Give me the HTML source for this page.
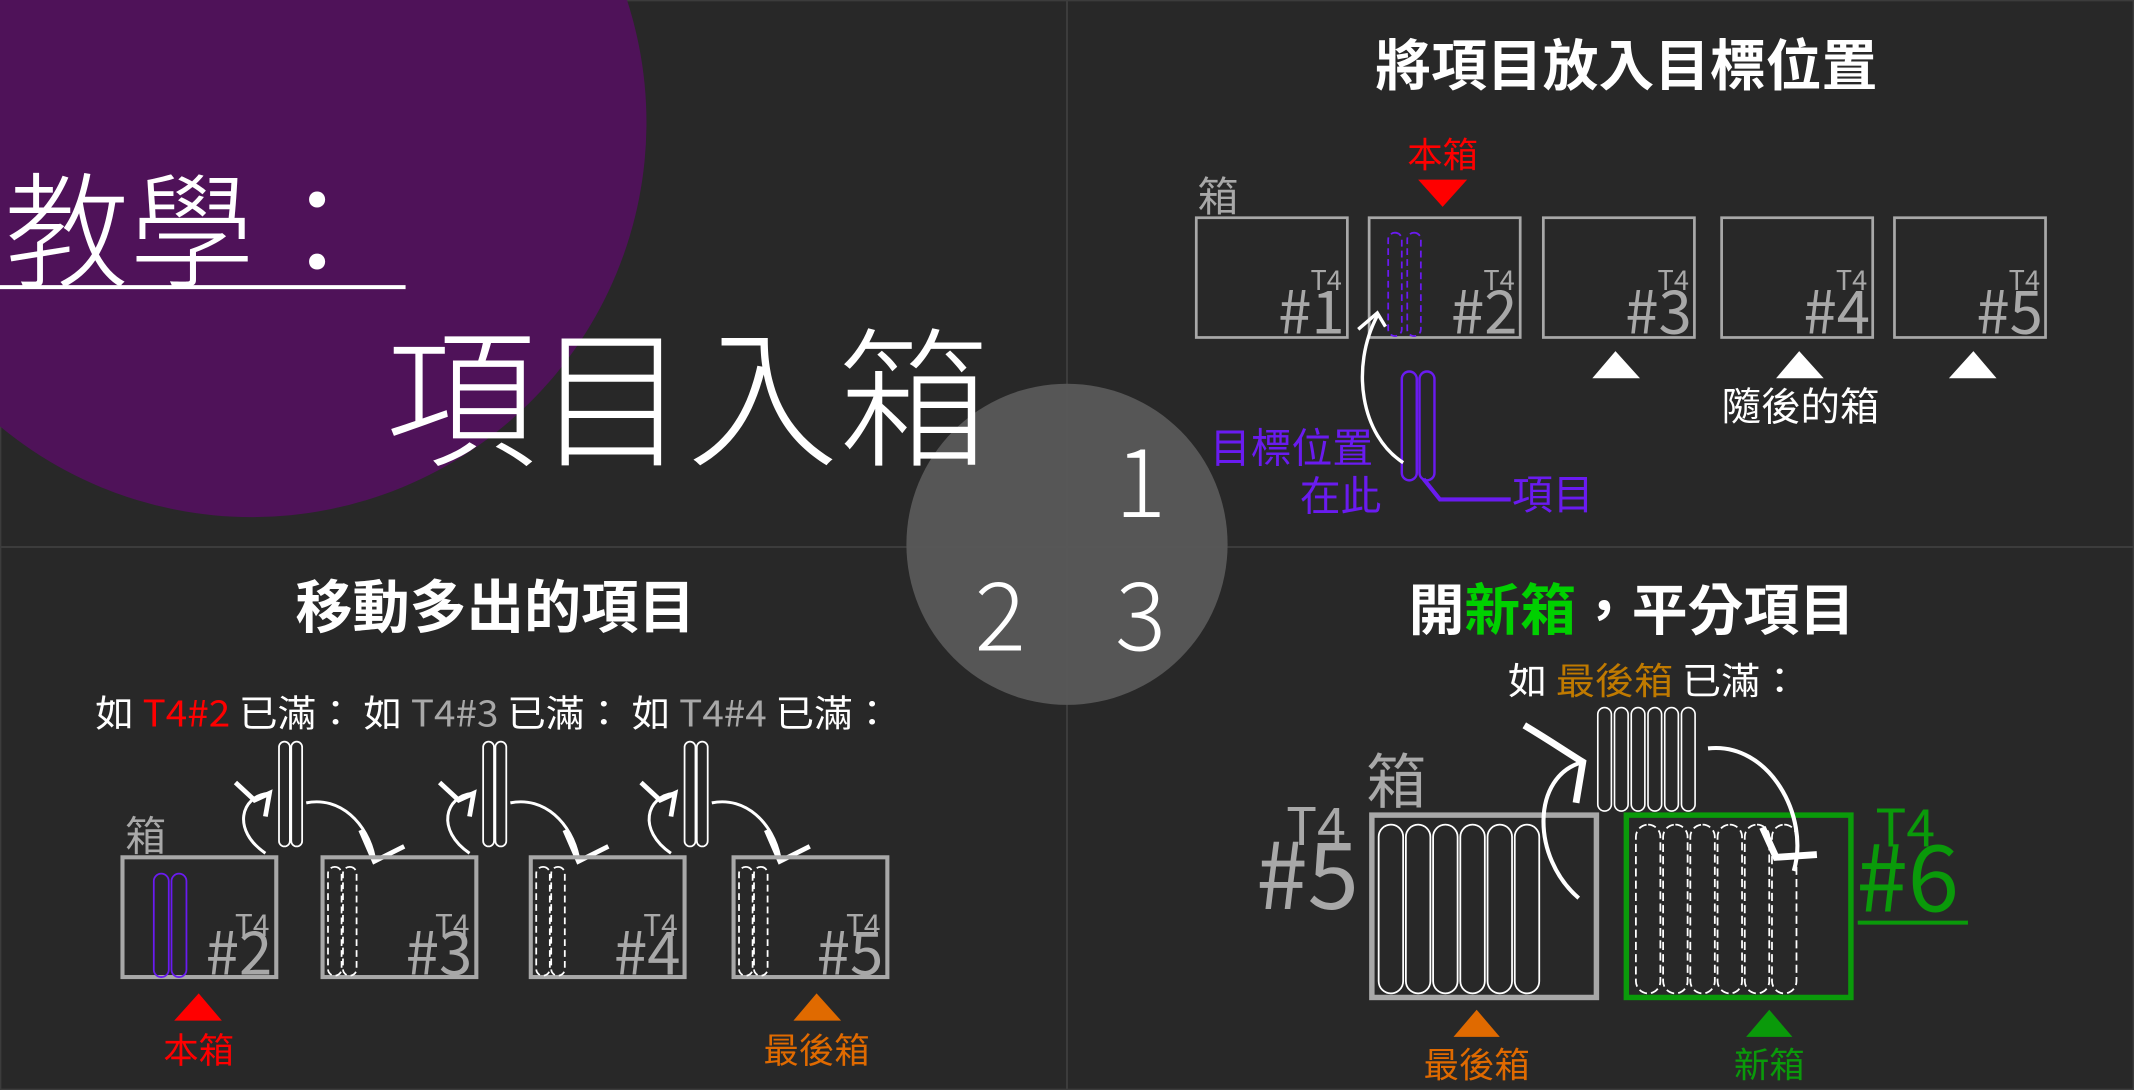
<!DOCTYPE html>
<html><head><meta charset="utf-8"><style>
html,body{margin:0;padding:0;background:#282828;overflow:hidden}
svg{display:block}
text{font-family:"Liberation Sans","Noto Sans CJK TC",sans-serif}
.cjk{font-family:"Noto Sans CJK TC","Liberation Sans",sans-serif}
</style></head><body>
<svg width="2134" height="1090" viewBox="0 0 1568 801" preserveAspectRatio="none" xmlns="http://www.w3.org/2000/svg">
<rect x="0" y="0" width="1568" height="801" fill="#282828"/>
<rect x="0.5" y="0.5" width="1567" height="800" fill="none" stroke="#3c3c3c" stroke-width="1"/>
<line x1="784" y1="0" x2="784" y2="801" stroke="#3c3c3c" stroke-width="1.5"/>
<line x1="0" y1="402" x2="1568" y2="402" stroke="#3c3c3c" stroke-width="1.5"/>
<circle cx="185" cy="90" r="290" fill="#4f1259"/>
<circle cx="784" cy="400" r="118" fill="#5a5a5a" fill-opacity="0.92"/>
<text x="838" y="380" font-size="70" font-weight="200" fill="#fff" text-anchor="middle" class="cjk">1</text>
<text x="735" y="478" font-size="70" font-weight="200" fill="#fff" text-anchor="middle" class="cjk">2</text>
<text x="838" y="478" font-size="70" font-weight="200" fill="#fff" text-anchor="middle" class="cjk">3</text>
<text x="3" y="204" font-size="92" font-weight="300" fill="#fff" class="cjk">教學：</text>
<line x1="0" y1="211" x2="298" y2="211" stroke="#fff" stroke-width="3"/>
<text x="283" y="334" font-size="111" font-weight="300" fill="#fff" class="cjk">項目入箱</text>

<!-- Panel 1 -->
<g>
<text x="1195" y="63" font-size="41" font-weight="bold" fill="#fff" text-anchor="middle" class="cjk">將項目放入目標位置</text>
<text x="880" y="155" font-size="30" fill="#a8a8a8" class="cjk">箱</text>
<text x="1060" y="123" font-size="26" fill="#ff0000" text-anchor="middle" class="cjk">本箱</text>
<polygon points="1042,132 1078,132 1060,152" fill="#ff0000"/>
<g id="p1boxes"></g>
<rect x="1020" y="171" width="10" height="76" rx="5" fill="none" stroke="#6a1bf0" stroke-width="1.3" stroke-dasharray="5,3"/>
<rect x="1034" y="171" width="10" height="76" rx="5" fill="none" stroke="#6a1bf0" stroke-width="1.3" stroke-dasharray="5,3"/>
<rect x="1030" y="273" width="11" height="80" rx="5.5" fill="none" stroke="#6a1bf0" stroke-width="1.8"/>
<rect x="1043" y="273" width="11" height="80" rx="5.5" fill="none" stroke="#6a1bf0" stroke-width="1.8"/>
<polyline points="1046,352 1058,367 1110,367" fill="none" stroke="#6a1bf0" stroke-width="3"/>
<text x="1111" y="374" font-size="30" fill="#6a1bf0" class="cjk">項目</text>
<text x="889" y="340" font-size="30" fill="#6a1bf0" class="cjk">目標位置</text>
<text x="955" y="375" font-size="30" fill="#6a1bf0" class="cjk">在此</text>
<path d="M1031,340 C1000,320 992,270 1012,232" fill="none" stroke="#fff" stroke-width="2.5"/>
<path d="M998,242 L1012,230 L1018,240" fill="none" stroke="#fff" stroke-width="2.5"/>
<polygon points="1170,278 1205,278 1187,258" fill="#fff"/>
<polygon points="1305,278 1340,278 1322,258" fill="#fff"/>
<polygon points="1432,278 1467,278 1450,258" fill="#fff"/>
<text x="1323" y="309" font-size="29" fill="#fff" text-anchor="middle" class="cjk">隨後的箱</text>
</g>

<!-- Panel 2 -->
<g>
<text x="364" y="461" font-size="42" font-weight="bold" fill="#fff" text-anchor="middle" class="cjk">移動多出的項目</text>
<text x="70" y="534" font-size="27" fill="#fff" class="cjk" textLength="585" lengthAdjust="spacingAndGlyphs">如 <tspan fill="#ff0000">T4#2</tspan> 已滿： 如 <tspan fill="#a8a8a8">T4#3</tspan> 已滿： 如 <tspan fill="#a8a8a8">T4#4</tspan> 已滿：</text>
<text x="92" y="625" font-size="30" fill="#a8a8a8" class="cjk">箱</text>
<g id="p2boxes"></g>
<polygon points="128,750 163,750 146,730" fill="#ff0000"/>
<text x="146" y="781" font-size="26" fill="#ff0000" text-anchor="middle" class="cjk">本箱</text>
<polygon points="583,750 618,750 600,730" fill="#e06a00"/>
<text x="600" y="781" font-size="26" fill="#e06a00" text-anchor="middle" class="cjk">最後箱</text>
</g>

<!-- Panel 3 -->
<g>
<text x="1199" y="463" font-size="41" font-weight="bold" fill="#fff" text-anchor="middle" class="cjk">開<tspan fill="#00d000">新箱</tspan>，平分項目</text>
<text x="1108" y="510" font-size="27" fill="#fff" class="cjk" textLength="214" lengthAdjust="spacingAndGlyphs">如 <tspan fill="#c07a00">最後箱</tspan> 已滿：</text>
<text x="1004" y="590" font-size="44" fill="#a8a8a8" class="cjk">箱</text>
<text x="945" y="621" font-size="38" fill="#a8a8a8" class="cjk">T4</text>
<text x="923" y="668" font-size="68" fill="#a8a8a8" class="cjk">#5</text>
<text x="1378" y="622" font-size="38" fill="#0a9a0a" class="cjk">T4</text>
<text x="1364" y="670" font-size="68" fill="#0a9a0a" class="cjk">#6</text>
<line x1="1365" y1="678" x2="1446" y2="678" stroke="#0a9a0a" stroke-width="3"/>
<rect x="1008" y="599" width="165" height="134" fill="none" stroke="#a8a8a8" stroke-width="4"/>
<rect x="1195" y="599" width="165" height="134" fill="none" stroke="#0a9a0a" stroke-width="4"/>
<g id="p3items"></g>
<polygon points="1068,762 1102,762 1085,742" fill="#e06a00"/>
<text x="1085" y="792" font-size="26" fill="#e06a00" text-anchor="middle" class="cjk">最後箱</text>
<polygon points="1283,762 1317,762 1300,742" fill="#0a9a0a"/>
<text x="1300" y="792" font-size="26" fill="#0a9a0a" text-anchor="middle" class="cjk">新箱</text>
<path d="M1160,660 C1125,630 1125,570 1163,560" fill="none" stroke="#fff" stroke-width="3"/>
<path d="M1120,533 C1140,545 1150,552 1163,560 L1158,590" fill="none" stroke="#fff" stroke-width="5"/>
<path d="M1255,550 C1300,545 1330,600 1318,640" fill="none" stroke="#fff" stroke-width="3"/>
<path d="M1295,608 L1305,630 L1335,628" fill="none" stroke="#fff" stroke-width="5"/>
</g>
</svg>
<script>
var NS='http://www.w3.org/2000/svg';
function mk(tag,attrs,parent){var e=document.createElementNS(NS,tag);for(var k in attrs)e.setAttribute(k,attrs[k]);parent.appendChild(e);return e;}
var p1Numbers=['#1','#2','#3','#4','#5'];
var p1X=[879,1006,1134,1265,1392];
var g1=document.getElementById('p1boxes');
p1Numbers.forEach(function(n,i){
 var x=p1X[i];
 var r=mk('rect',{x:x,y:160,width:111,height:88,fill:'none',stroke:'#a8a8a8','stroke-width':2},g1);
 
 
 var t=mk('text',{x:x+107,y:213,'font-size':20,fill:'#a8a8a8','text-anchor':'end','class':'cjk'},g1);t.textContent='T4';
 
 
 var t2=mk('text',{x:x+109,y:245,'font-size':44,fill:'#a8a8a8','text-anchor':'end','class':'cjk'},g1);t2.textContent=n;
 
 
});
var p2Numbers=['#2','#3','#4','#5'];
var p2X=[90,237,390,539];
var g2=document.getElementById('p2boxes');
p2Numbers.forEach(function(n,i){
 var x=p2X[i];
 var r=mk('rect',{x:x,y:630,width:113,height:88,fill:'none',stroke:'#a8a8a8','stroke-width':3},g2);
 
 
 var t=mk('text',{x:x+108,y:688,'font-size':22,fill:'#a8a8a8','text-anchor':'end','class':'cjk'},g2);t.textContent='T4';
 
 
 var t2=mk('text',{x:x+110,y:716,'font-size':44,fill:'#a8a8a8','text-anchor':'end','class':'cjk'},g2);t2.textContent=n;
 
 
 for(var k=0;k<2;k++){
  var it=mk('rect',{x:(i==0?113:x+4)+k*(i==0?13:11),y:i==0?642:637,width:i==0?11:10,height:i==0?76:80,rx:i==0?5.5:5,fill:'none',stroke:i==0?'#6a1bf0':'#fff','stroke-width':1.3},g2);
  if(i>0)it.setAttribute('stroke-dasharray','5,3');
  
  
 }
 if(i<3){
  var ix=[205,355,503][i];
  for(var k=0;k<2;k++){
   var o=mk('rect',{x:ix+k*9,y:545,width:8,height:77,rx:4,fill:'none',stroke:'#fff','stroke-width':1.3},g2);
   
   
  }
  var a=mk('path',{d:'M'+(ix-10)+',627 C'+(ix-35)+',610 '+(ix-28)+',585 '+(ix-8)+',583',fill:'none',stroke:'#fff','stroke-width':2.2},g2);
  
  
  var ah=mk('path',{d:'M'+(ix-32)+',575 L'+(ix-18)+',588 L'+(ix-7)+',583 L'+(ix-10)+',600',fill:'none',stroke:'#fff','stroke-width':3.5},g2);
  
  
  var b=mk('path',{d:'M'+(ix+20)+',590 C'+(ix+45)+',585 '+(ix+65)+',605 '+(ix+70)+',630',fill:'none',stroke:'#fff','stroke-width':2.2},g2);
  
  
  var bh=mk('path',{d:'M'+(ix+60)+',610 L'+(ix+70)+',633 L'+(ix+92)+',622',fill:'none',stroke:'#fff','stroke-width':3.5},g2);
  
  
 }
});
var p3TopItems=[0,1,2,3,4,5];
var g3=document.getElementById('p3items');
p3TopItems.forEach(function(k){
 var a=mk('rect',{x:1174+k*12.3,y:520,width:10,height:76,rx:5,fill:'none',stroke:'#fff','stroke-width':1.2},g3);
 
 
 var b=mk('rect',{x:1013+k*20,y:606,width:18,height:124,rx:9,fill:'none',stroke:'#fff','stroke-width':1.3},g3);
 
 
 var c=mk('rect',{x:1202+k*20,y:606,width:18,height:124,rx:9,fill:'none',stroke:'#fff','stroke-width':1.3,'stroke-dasharray':'6,3'},g3);
 
 
});
</script>
</body></html>
